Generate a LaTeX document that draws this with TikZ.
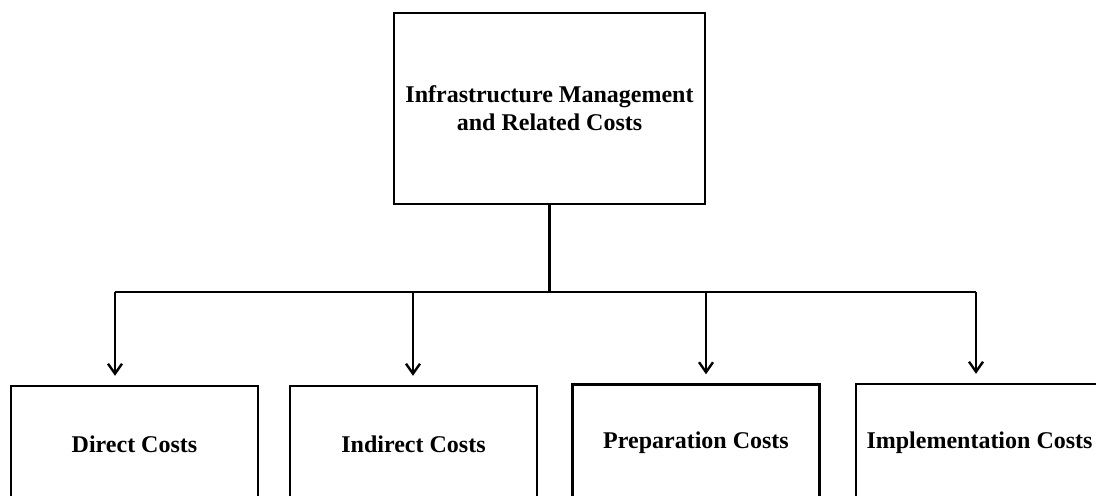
\documentclass[tikz,border=0pt]{standalone}
\usepackage{fontspec}
\setmainfont{Liberation Serif}
\usetikzlibrary{arrows.meta,positioning,calc}

\begin{document}
\begin{tikzpicture}[x=0.5pt, y=-0.5pt, line width=1.2pt,
  box/.style={draw, rectangle, inner sep=0pt, align=center,
    font=\fontsize{12}{14}\selectfont\bfseries},
  topbox/.style={box, minimum width=155.5pt, minimum height=95.5pt},
  costbox/.style={box, minimum width=123.5pt, minimum height=58.5pt}]
\useasboundingbox (0,0) rectangle (1096,496);
\node[topbox] (root) at (549.5,108.5) {Infrastructure Management\\and Related Costs};
\node[costbox] (c1) at (134.5,444.5) {Direct Costs};
\node[costbox] (c2) at (413.5,444.5) {Indirect Costs};
\node[costbox] (c3) at (696,443) {Preparation Costs};
\node[costbox] (c4) at (979.5,442.5) {Implementation Costs};
% junctions on the bus line
\coordinate (bus) at (root.south |- 0,292);
\coordinate (j1) at (115,292);
\coordinate (j2) at (413,292);
\coordinate (j3) at (706,292);
\coordinate (j4) at (976,292);
\draw (root.south) -- (bus);
\draw (j1) -- (j4);
\foreach \i in {1,...,4}
  \draw[-{Straight Barb[length=5pt,width=7pt]}, shorten >=4.5pt] (j\i) -- (j\i |- c\i.north);
\end{tikzpicture}
\end{document}
